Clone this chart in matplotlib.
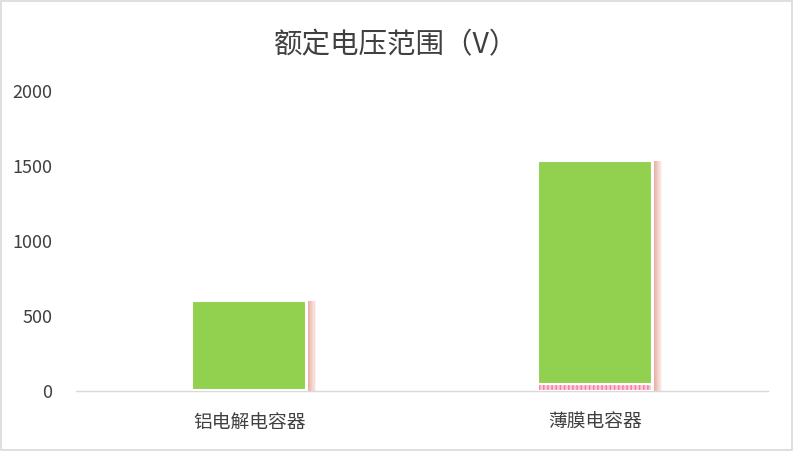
import matplotlib.pyplot as plt
import matplotlib.patches as mpatches
import numpy as np

plt.rcParams['font.family'] = ['Noto Sans CJK SC', 'DejaVu Sans']

# data
categories = ['铝电解电容器', '薄膜电容器']
v_min = [6.3, 50]        # lower limit (pink segment)
v_max = [600, 1535]      # upper limit
title = '额定电压范围（V）'

green = '#92d050'
pink = '#f27aa5'
pink_light = '#fcc9da'
shadow = '#e3968a'

fig = plt.figure(figsize=(7.93, 4.51), dpi=100)
ax = fig.add_axes([0.096, 0.133, 0.873, 0.665])

x = np.arange(len(categories))
w = 0.33
span = np.array(v_max) - np.array(v_min)

# soft shadow on the right of each bar
for xi, top in zip(x, v_max):
    for k in range(8):
        ax.add_patch(mpatches.Rectangle((xi + w / 2 + 0.004 + k * 0.0028, -8), 0.0032, top + 6,
                                        facecolor=shadow, alpha=0.75 - k * 0.09,
                                        linewidth=0, zorder=1, clip_on=False))

ax.bar(x, v_min, w, color=pink_light, edgecolor=pink, linewidth=0, hatch='||||', zorder=2)
ax.bar(x, v_min, w, fill=False, edgecolor='white', linewidth=1.5, zorder=3)
ax.bar(x, span, w, bottom=v_min, color=green, edgecolor='white', linewidth=1.5, zorder=3)

ax.set_xlim(-0.5, 1.5)
ax.set_ylim(0, 2000)
ax.set_yticks([0, 500, 1000, 1500, 2000])
ax.set_xticks(x)
ax.set_xticklabels(categories, fontsize=13.5, color='#404040')
ax.tick_params(axis='y', length=0, labelsize=13, labelcolor='#404040', pad=17)
ax.tick_params(axis='x', length=0, pad=15)
for s in ['top', 'right', 'left']:
    ax.spines[s].set_visible(False)
ax.spines['bottom'].set_color('#d9d9d9')
ax.spines['bottom'].set_linewidth(1)

fig.text(0.5, 0.9, title, ha='center', va='center', fontsize=20.5, color='#404040')

# light frame around the whole picture
fig.add_artist(mpatches.Rectangle((0.001, 0.002), 0.998, 0.996, transform=fig.transFigure,
                                  fill=False, edgecolor='#d9d9d9', linewidth=1.2))

fig.savefig('out.png', dpi=100, facecolor='white')
